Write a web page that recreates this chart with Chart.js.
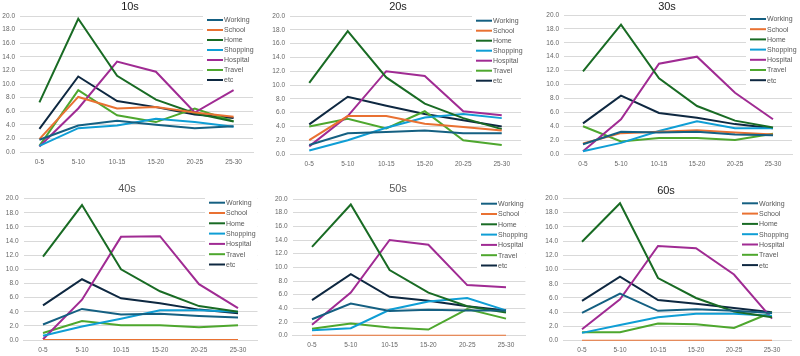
<!DOCTYPE html>
<html><head><meta charset="utf-8">
<script src="https://cdn.jsdelivr.net/npm/chart.js@4"></script>
<style>
html,body{margin:0;padding:0;background:#fff;width:800px;height:356px;overflow:hidden}
canvas{position:absolute}
</style></head>
<body>
<script>
const categories = ['0-5','5-10','10-15','15-20','20-25','25-30'];
const seriesNames = ['Working','School','Home','Shopping','Hospital','Travel','etc'];
const seriesColors = ['#156082','#E97132','#196B24','#0F9ED5','#A02B93','#4EA72E','#0E2841'];
const panelTitles = ['10s','20s','30s','40s','50s','60s'];
const yTickValues = [0,2,4,6,8,10,12,14,16,18,20];

// order: Working, School, Home, Shopping, Hospital, Travel, etc
const values10s = [
  [1.8,3.9,4.6,4.0,3.5,3.8],
  [1.9,8.1,6.4,6.6,5.8,5.2],
  [7.3,19.6,11.2,7.7,5.7,4.5],
  [0.9,3.5,3.9,4.9,4.4,3.7],
  [0.8,6.4,13.3,11.8,5.8,9.1],
  [0.9,9.1,5.4,4.4,6.4,4.5],
  [3.4,11.1,7.5,6.6,5.5,5.0]
];
const values20s = [
  [1.3,3.0,3.2,3.4,3.0,3.0],
  [2.0,5.5,5.5,4.4,3.9,3.4],
  [10.3,17.8,11.1,7.3,5.2,3.6],
  [0.5,2.0,3.8,5.3,5.8,5.2],
  [1.1,5.5,12.0,11.3,6.2,5.6],
  [4.0,5.1,3.7,6.2,2.0,1.3],
  [4.3,8.3,7.0,5.8,4.9,4.0]
];
const values30s = [
  [1.4,3.2,3.1,3.2,2.8,2.7],
  [1.5,3.0,3.2,3.4,3.1,2.8],
  [11.9,18.6,10.9,6.9,4.8,3.8],
  [0.4,1.6,3.3,4.7,3.7,3.7],
  [0.4,5.0,13.0,14.0,8.8,5.0],
  [4.0,1.8,2.3,2.3,2.0,2.9],
  [4.4,8.4,5.9,5.2,4.3,3.7]
];
const values40s = [
  [2.2,4.4,3.6,3.7,3.4,3.2],
  [0,0,0,0,0,0],
  [11.8,19.1,10.0,6.9,4.8,4.0],
  [0.6,1.9,3.0,4.2,4.2,4.0],
  [0.1,5.7,14.6,14.7,7.9,4.5],
  [1.0,2.7,2.1,2.1,1.8,2.1],
  [4.9,8.6,5.9,5.2,4.3,3.8]
];
const values50s = [
  [2.4,4.7,3.6,3.8,3.7,3.7],
  [0,0,0,0,0,0],
  [13.0,19.2,9.6,6.3,4.3,3.4],
  [0.8,1.1,3.8,5.0,5.5,3.7],
  [1.6,6.3,14.0,13.3,7.4,7.1],
  [1.0,1.8,1.2,0.9,3.9,2.5],
  [5.2,9.0,5.7,5.1,4.3,3.7]
];
const values60s = [
  [3.9,6.6,4.2,4.4,4.2,3.9],
  [0,0,0,0,0,0],
  [13.9,19.3,8.8,6.0,4.1,3.3],
  [1.1,2.2,3.3,3.8,3.8,3.5],
  [1.6,5.8,13.3,13.0,9.3,3.1],
  [1.2,1.2,2.4,2.3,1.8,4.0],
  [5.6,9.0,5.7,5.2,4.6,4.0]
];
const panelValues = [values10s, values20s, values30s, values40s, values50s, values60s];

// layout (positions only)
const layouts = [
  {x:0,  y:0,  w:265,h:178,L:20, R:253,T:16, B:152,  tx:130,ty:7,  tc:'#1a1a1a', lx:207,ly:20,  ls:10},
  {x:265,y:0,  w:265,h:178,L:25, R:256,T:16, B:154,  tx:133,ty:7,  tc:'#1a1a1a', lx:211,ly:20.7,ls:10},
  {x:530,y:0,  w:270,h:178,L:34, R:262,T:15, B:154,  tx:137,ty:6.5,tc:'#1a1a1a', lx:220,ly:19,  ls:10.2},
  {x:0,  y:178,w:265,h:178,L:23.5,R:257.5,T:20.7,B:162, tx:127,ty:11, tc:'#595959', lx:209,ly:24.7,ls:10.3},
  {x:265,y:178,w:265,h:178,L:27.6,R:260.4,T:21, B:157.7,tx:133,ty:11, tc:'#595959', lx:216,ly:25.7,ls:10.3},
  {x:530,y:178,w:270,h:178,L:33, R:261,T:20.3,B:162.7,tx:136,ty:12.5,tc:'#1a1a1a', lx:212,ly:25.3,ls:10.3}
];

const FONT = '"Liberation Sans", Arial, sans-serif';

const overlayPlugin = {
  id: 'overlay',
  afterDraw(chart, args, opts) {
    const ctx = chart.ctx;
    const lay = opts.lay;
    ctx.save();
    // title
    ctx.font = '11px ' + FONT;
    ctx.fillStyle = lay.tc;
    ctx.textAlign = 'center';
    ctx.textBaseline = 'middle';
    ctx.fillText(opts.title, lay.tx, lay.ty);
    // legend
    const n = chart.data.datasets.length;
    ctx.fillStyle = '#ffffff';
    ctx.fillRect(lay.lx - 4, lay.ly - 5.5, chart.chartArea.right - lay.lx + 4, (n - 1) * lay.ls + 11);
    ctx.font = '7px ' + FONT;
    ctx.textAlign = 'left';
    chart.data.datasets.forEach((ds, i) => {
      const yy = lay.ly + i * lay.ls;
      ctx.strokeStyle = ds.borderColor;
      ctx.lineWidth = 2;
      ctx.beginPath();
      ctx.moveTo(lay.lx, yy);
      ctx.lineTo(lay.lx + 16, yy);
      ctx.stroke();
      ctx.fillStyle = '#595959';
      ctx.fillText(ds.label, lay.lx + 17, yy + 0.5);
    });
    ctx.restore();
  }
};

panelValues.forEach((vals, p) => {
  const lay = layouts[p];
  const cv = document.createElement('canvas');
  cv.width = lay.w; cv.height = lay.h;
  cv.style.left = lay.x + 'px'; cv.style.top = lay.y + 'px';
  cv.style.width = lay.w + 'px'; cv.style.height = lay.h + 'px';
  document.body.appendChild(cv);
  new Chart(cv, {
    type: 'line',
    data: {
      labels: categories,
      datasets: seriesNames.map((name, i) => ({
        label: name,
        data: vals[i],
        borderColor: seriesColors[i],
        backgroundColor: seriesColors[i],
        borderWidth: 2,
        pointRadius: 0,
        tension: 0,
        fill: false
      }))
    },
    options: {
      responsive: false,
      animation: false,
      devicePixelRatio: 1,
      layout: { padding: { left: 0, top: lay.T, right: lay.w - lay.R, bottom: 0 } },
      plugins: {
        legend: { display: false },
        tooltip: { enabled: false },
        title: { display: false },
        overlay: { lay: lay, title: panelTitles[p] }
      },
      scales: {
        x: {
          type: 'category',
          offset: true,
          grid: { display: false, drawTicks: false },
          border: { display: true, color: '#D9D9D9', width: 1 },
          ticks: { color: '#666666', font: { family: FONT, size: 6.5 }, padding: 6, maxRotation: 0, autoSkip: false },
          afterFit(s) { s.height = lay.h - lay.B; }
        },
        y: {
          min: 0, max: 20,
          afterBuildTicks(s) { s.ticks = yTickValues.map(v => ({ value: v })); },
          grid: { color: '#D9D9D9', drawTicks: false, lineWidth: 1 },
          border: { display: false },
          ticks: {
            color: '#666666', font: { family: FONT, size: 6.5 }, padding: 5,
            callback: v => Number(v).toFixed(1)
          },
          afterFit(s) { s.width = lay.L; }
        }
      }
    },
    plugins: [overlayPlugin]
  });
});
</script>
</body></html>
